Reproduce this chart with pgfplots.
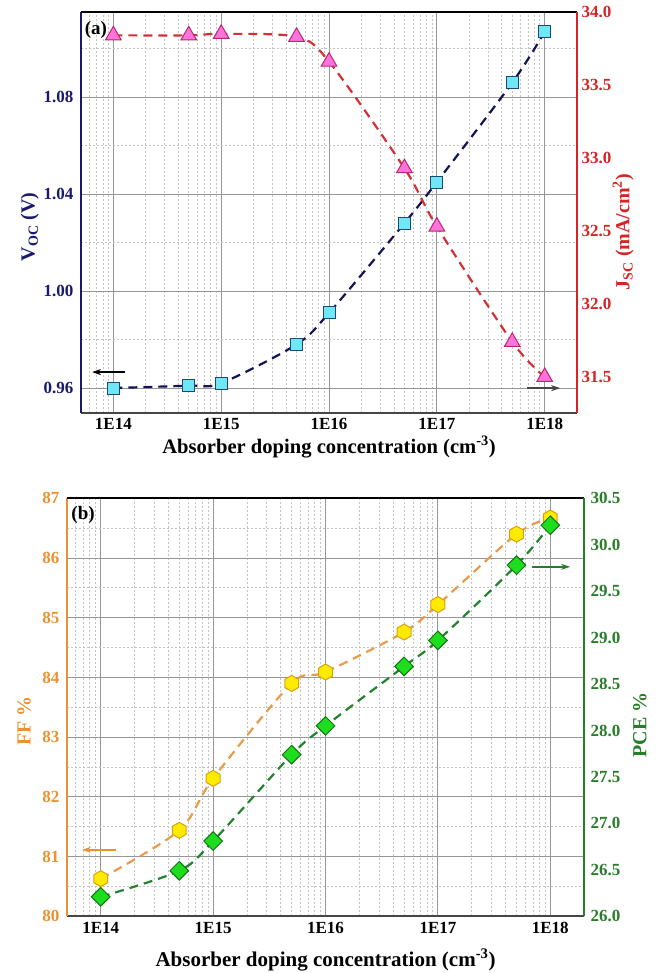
\documentclass[border=0pt]{standalone}
\usepackage{fontspec}
\setmainfont{Liberation Serif}
\usepackage{pgfplots}
\pgfplotsset{compat=1.18}
\usetikzlibrary{arrows.meta}

\definecolor{navy}{RGB}{25,25,112}
\definecolor{vline}{RGB}{20,20,85}
\definecolor{sqfill}{RGB}{110,232,245}
\definecolor{sqedge}{RGB}{30,70,120}
\definecolor{jred}{RGB}{215,35,35}
\definecolor{jline}{RGB}{210,50,55}
\definecolor{trifill}{RGB}{255,115,220}
\definecolor{triedge}{RGB}{185,40,110}
\definecolor{ffor}{RGB}{235,145,50}
\definecolor{ffline}{RGB}{232,155,75}
\definecolor{hexfill}{RGB}{255,235,0}
\definecolor{hexedge}{RGB}{215,160,20}
\definecolor{pcegr}{RGB}{40,125,40}
\definecolor{pceline}{RGB}{35,130,45}
\definecolor{diafill}{RGB}{30,220,30}
\definecolor{diaedge}{RGB}{20,115,20}
\definecolor{axgray}{RGB}{70,70,70}
\definecolor{majgrid}{RGB}{150,150,150}
\definecolor{mingrid}{RGB}{195,195,195}

\pgfdeclareplotmark{hexagon*}{%
  \pgfpathmoveto{\pgfqpointpolar{30}{\pgfplotmarksize}}%
  \pgfpathlineto{\pgfqpointpolar{90}{\pgfplotmarksize}}%
  \pgfpathlineto{\pgfqpointpolar{150}{\pgfplotmarksize}}%
  \pgfpathlineto{\pgfqpointpolar{210}{\pgfplotmarksize}}%
  \pgfpathlineto{\pgfqpointpolar{270}{\pgfplotmarksize}}%
  \pgfpathlineto{\pgfqpointpolar{330}{\pgfplotmarksize}}%
  \pgfpathclose
  \pgfusepathqfillstroke}

\begin{document}
\begin{tikzpicture}
\path[use as bounding box] (0pt,0pt) rectangle (660pt,973pt);

% ---------------- Panel (a) ----------------
\begin{axis}[
  scale only axis, xmode=log, xmin=5.0119e13, xmax=1.9953e18,
  xtick={1e14,1e15,1e16,1e17,1e18}, xticklabels={1E14,1E15,1E16,1E17,1E18},
  major tick length=0pt, minor tick length=0pt,
  xticklabel style={font=\fontsize{17}{17}\selectfont\bfseries, yshift=-2pt},
  yticklabel style={font=\fontsize{17}{17}\selectfont\bfseries, text=navy, xshift=-4pt},
  xlabel style={font=\fontsize{20.6}{20.6}\selectfont\bfseries, at={(axis description cs:0.5,-0.085)}, anchor=center},
  ylabel style={font=\fontsize{20}{20}\selectfont\bfseries, text=navy, at={(axis description cs:-0.103,0.464)}, anchor=center},
  clip=false,
  grid=both,
  minor xtick={6e13,7e13,8e13,9e13,2e14,3e14,4e14,5e14,6e14,7e14,8e14,9e14,2e15,3e15,4e15,5e15,6e15,7e15,8e15,9e15,2e16,3e16,4e16,5e16,6e16,7e16,8e16,9e16,2e17,3e17,4e17,5e17,6e17,7e17,8e17,9e17},
  major grid style={draw=majgrid, line width=1pt},
  minor grid style={draw=mingrid, line width=0.8pt, dash pattern=on 2pt off 2pt},
  at={(81pt,560pt)}, anchor=south west, width=496pt, height=401pt,
  ymin=0.9497, ymax=1.1152,
  ytick={0.96,1.00,1.04,1.08}, yticklabels={0.96,1.00,1.04,1.08},
  minor ytick={0.98,1.02,1.06,1.10},
  axis x line*=bottom, axis y line*=left,
  x axis line style={line width=2.2pt, draw=axgray},
  y axis line style={line width=2pt, draw=navy},
  xlabel={Absorber doping concentration (cm\textsuperscript{-3})},
  ylabel={V\textsubscript{OC} (V)},
]
\addplot[line width=2.2pt, dash pattern=on 9pt off 6pt, smooth, tension=0.5, draw=vline, mark=square*, mark size=6pt,
  mark options={solid, fill=sqfill, draw=sqedge, line width=1pt}]
  coordinates {(1e14,0.960) (5e14,0.961) (1e15,0.962) (5e15,0.978) (1e16,0.991) (5e16,1.028) (1e17,1.045) (5e17,1.086) (1e18,1.107)};
\node[font=\fontsize{19}{19}\selectfont\bfseries] at (axis description cs:0.030,0.955) {(a)};
\draw[line width=1.4pt, -{Stealth[length=9pt,width=6pt]}] (axis description cs:0.0887,0.102) -- (axis description cs:0.0222,0.102);
\end{axis}

\begin{axis}[
  scale only axis, xmode=log, xmin=5.0119e13, xmax=1.9953e18,
  xtick=\empty,
  major tick length=0pt, minor tick length=0pt,
  yticklabel style={font=\fontsize{17}{17}\selectfont\bfseries, text=jred, xshift=1pt},
  ylabel style={font=\fontsize{20}{20}\selectfont\bfseries, text=jred, at={(axis description cs:1.093,0.451)}, anchor=center},
  clip=false,
  at={(81pt,560pt)}, anchor=south west, width=496pt, height=401pt,
  ymin=31.253, ymax=34.0,
  ytick={31.5,32,32.5,33,33.5,34}, yticklabels={31.5,32.0,32.5,33.0,33.5,34.0},
  axis x line*=top, axis y line*=right,
  x axis line style={line width=1.6pt, draw=black},
  y axis line style={line width=2pt, draw=jred},
  ylabel={J\textsubscript{SC} (mA/cm\textsuperscript{2})},
]
\addplot[line width=2.2pt, dash pattern=on 9pt off 6pt, smooth, tension=0.5, draw=jline, mark=triangle*, mark size=9pt,
  mark options={solid, fill=trifill, draw=triedge, line width=1pt}]
  coordinates {(1e14,33.84) (5e14,33.84) (1e15,33.85) (5e15,33.83) (1e16,33.66) (5e16,32.93) (1e17,32.53) (5e17,31.74) (1e18,31.50)};
\draw[line width=1.4pt, draw=axgray, -{Stealth[length=9pt,width=6pt]}] (axis description cs:0.899,0.062) -- (axis description cs:0.966,0.062);
\end{axis}

% ---------------- Panel (b) ----------------
\begin{axis}[
  scale only axis, xmode=log, xmin=5.0119e13, xmax=1.9953e18,
  xtick={1e14,1e15,1e16,1e17,1e18}, xticklabels={1E14,1E15,1E16,1E17,1E18},
  major tick length=0pt, minor tick length=0pt,
  xticklabel style={font=\fontsize{17}{17}\selectfont\bfseries, yshift=-2pt},
  yticklabel style={font=\fontsize{17}{17}\selectfont\bfseries, text=ffor, xshift=-4pt},
  xlabel style={font=\fontsize{21}{21}\selectfont\bfseries, at={(axis description cs:0.5,-0.1045)}, anchor=center},
  ylabel style={font=\fontsize{20}{20}\selectfont\bfseries, text=ffor, at={(axis description cs:-0.083,0.467)}, anchor=center},
  clip=false,
  grid=both,
  minor xtick={6e13,7e13,8e13,9e13,2e14,3e14,4e14,5e14,6e14,7e14,8e14,9e14,2e15,3e15,4e15,5e15,6e15,7e15,8e15,9e15,2e16,3e16,4e16,5e16,6e16,7e16,8e16,9e16,2e17,3e17,4e17,5e17,6e17,7e17,8e17,9e17},
  major grid style={draw=majgrid, line width=1pt},
  minor grid style={draw=mingrid, line width=0.8pt, dash pattern=on 2pt off 2pt},
  at={(67pt,56.7pt)}, anchor=south west, width=517pt, height=418pt,
  ymin=80, ymax=87,
  ytick={80,81,82,83,84,85,86,87}, yticklabels={80,81,82,83,84,85,86,87},
  minor ytick={80.5,81.5,82.5,83.5,84.5,85.5,86.5},
  axis x line*=bottom, axis y line*=left,
  x axis line style={line width=2.2pt, draw=axgray},
  y axis line style={line width=2pt, draw=ffor},
  xlabel={Absorber doping concentration (cm\textsuperscript{-3})},
  ylabel={FF \%},
]
\addplot[line width=2.2pt, dash pattern=on 9pt off 6pt, smooth, tension=0.5, draw=ffline, mark=hexagon*, mark size=8pt,
  mark options={solid, fill=hexfill, draw=hexedge, line width=1pt}]
  coordinates {(1e14,80.63) (5e14,81.44) (1e15,82.31) (5e15,83.90) (1e16,84.09) (5e16,84.76) (1e17,85.22) (5e17,86.40) (1e18,86.67)};
\node[font=\fontsize{19}{19}\selectfont\bfseries] at (axis description cs:0.031,0.960) {(b)};
\draw[line width=1.4pt, draw=ffor, -{Stealth[length=9pt,width=6pt]}] (axis description cs:0.0948,0.159) -- (axis description cs:0.029,0.159);
\end{axis}

\begin{axis}[
  scale only axis, xmode=log, xmin=5.0119e13, xmax=1.9953e18,
  xtick=\empty,
  major tick length=0pt, minor tick length=0pt,
  yticklabel style={font=\fontsize{17}{17}\selectfont\bfseries, text=pcegr, xshift=3pt},
  ylabel style={font=\fontsize{20}{20}\selectfont\bfseries, text=pcegr, at={(axis description cs:1.108,0.458)}, anchor=center},
  clip=false,
  at={(67pt,56.7pt)}, anchor=south west, width=517pt, height=418pt,
  ymin=26, ymax=30.5,
  ytick={26,26.5,27,27.5,28,28.5,29,29.5,30,30.5},
  yticklabels={26.0,26.5,27.0,27.5,28.0,28.5,29.0,29.5,30.0,30.5},
  axis x line*=top, axis y line*=right,
  x axis line style={line width=1.6pt, draw=black},
  y axis line style={line width=2pt, draw=pcegr},
  ylabel={PCE \%},
]
\addplot[line width=2.2pt, dash pattern=on 9pt off 6pt, smooth, tension=0.5, draw=pceline, mark=square*, mark size=6.6pt,
  mark options={solid, rotate=45, fill=diafill, draw=diaedge, line width=1pt}]
  coordinates {(1e14,26.21) (5e14,26.49) (1e15,26.81) (5e15,27.74) (1e16,28.05) (5e16,28.69) (1e17,28.97) (5e17,29.78) (1e18,30.21)};
\draw[line width=1.4pt, draw=pcegr, -{Stealth[length=9pt,width=6pt]}] (axis description cs:0.899,0.836) -- (axis description cs:0.973,0.836);
\end{axis}
\end{tikzpicture}
\end{document}
